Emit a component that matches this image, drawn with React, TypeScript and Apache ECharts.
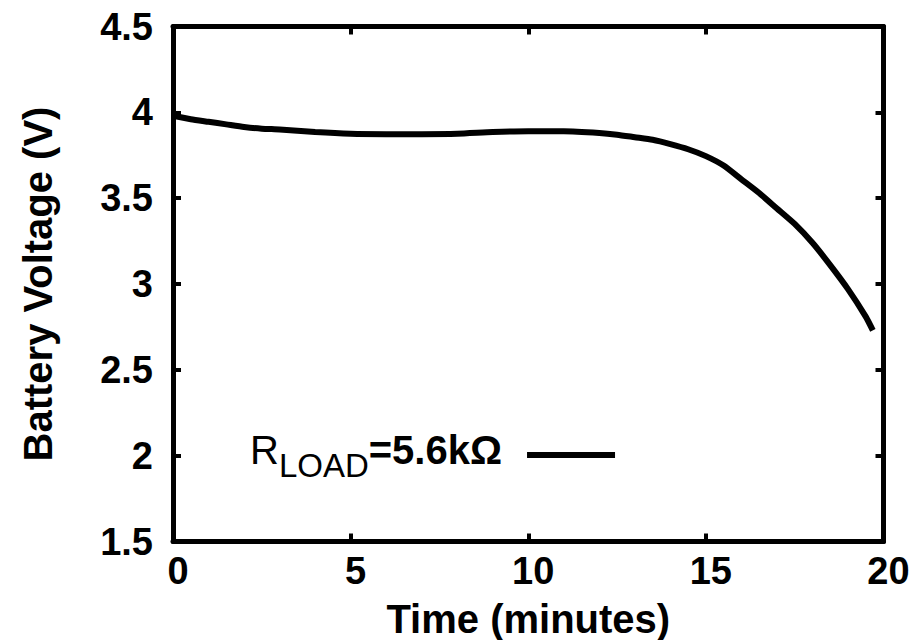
import React, { useEffect, useRef } from "react";
import * as echarts from "echarts";

const timeMinutes = [0, 0.5, 1, 1.5, 2, 2.5, 3, 4, 5, 6, 7, 8, 9, 10, 11, 12, 12.5, 13, 13.5, 14, 14.5, 15, 15.5, 16, 16.5, 17, 17.5, 18, 18.5, 19, 19.5, 19.7];
const voltage = [3.98, 3.96, 3.945, 3.93, 3.915, 3.905, 3.9, 3.885, 3.875, 3.873, 3.873, 3.875, 3.885, 3.89, 3.89, 3.88, 3.87, 3.855, 3.84, 3.815, 3.785, 3.745, 3.69, 3.61, 3.53, 3.44, 3.35, 3.24, 3.11, 2.97, 2.81, 2.73];
const xTicks = [0, 5, 10, 15, 20];
const yTicks = [1.5, 2, 2.5, 3, 3.5, 4, 4.5];
const seriesName = "RLOAD=5.6kΩ";

const FONT = "'Liberation Sans', Arial, Helvetica, sans-serif";

export default function App() {
  const ref = useRef<HTMLDivElement>(null);
  useEffect(() => {
    if (!ref.current) return;
    const chart = echarts.init(ref.current, null, { renderer: "svg" });
    const axisLine = { show: true, onZero: false, lineStyle: { color: "#000", width: 5 } };
    const axisTick = { show: true, inside: true, length: 8, lineStyle: { color: "#000", width: 4 } };
    const labelStyle = { color: "#000", fontSize: 38, fontWeight: "bold", fontFamily: FONT };
    const data = timeMinutes.map((t, i) => [t, voltage[i]]);
    chart.setOption({
      animation: false,
      backgroundColor: "#fff",
      grid: { left: 173, right: 40.5, top: 26.5, bottom: 98.5, containLabel: false, outerBoundsMode: "none" },
      legend: {
        show: true,
        left: 250,
        top: 429,
        padding: 0,
        align: "right",
        icon: "path://M0 0 M0 12 L88 12 L88 18 L0 18 Z",
        itemWidth: 88,
        itemHeight: 18,
        data: [seriesName],
        formatter: () => "{r|R}{s|LOAD}{v|=5.6kΩ}",
        textStyle: {
          color: "#000",
          fontFamily: FONT,
          rich: {
            r: { fontSize: 40, fontWeight: "normal", fontFamily: FONT, color: "#000", lineHeight: 40, padding: [1, 0, 0, 0], verticalAlign: "top" },
            s: { fontSize: 33, fontWeight: "normal", fontFamily: FONT, color: "#000", lineHeight: 32, padding: [20, 0, 0, 0], verticalAlign: "top" },
            v: { fontSize: 40, fontWeight: "bold", fontFamily: FONT, color: "#000", lineHeight: 40, padding: [1, 20, 0, 0], verticalAlign: "top" },
          },
        },
      },
      xAxis: [
        {
          type: "value",
          position: "bottom",
          min: xTicks[0],
          max: xTicks[xTicks.length - 1],
          interval: 5,
          axisLine,
          axisTick,
          splitLine: { show: false },
          axisLabel: { ...labelStyle, margin: 10, padding: [0, 0, 0, 10] },
          name: "Time (minutes)",
          nameLocation: "middle",
          nameGap: 57,
          nameTextStyle: { color: "#000", fontSize: 40, fontWeight: "bold", fontFamily: FONT },
        },
        {
          type: "value",
          position: "top",
          min: xTicks[0],
          max: xTicks[xTicks.length - 1],
          interval: 5,
          axisLine,
          axisTick,
          splitLine: { show: false },
          axisLabel: { show: false },
        },
      ],
      yAxis: [
        {
          type: "value",
          position: "left",
          min: yTicks[0],
          max: yTicks[yTicks.length - 1],
          interval: 0.5,
          axisLine,
          axisTick,
          splitLine: { show: false },
          axisLabel: { ...labelStyle, margin: 20 },
          name: "Battery Voltage (V)",
          nameLocation: "middle",
          nameGap: 115,
          nameTextStyle: { color: "#000", fontSize: 40, fontWeight: "bold", fontFamily: FONT },
        },
        {
          type: "value",
          position: "right",
          min: yTicks[0],
          max: yTicks[yTicks.length - 1],
          interval: 0.5,
          axisLine,
          axisTick,
          splitLine: { show: false },
          axisLabel: { show: false },
        },
      ],
      series: [
        {
          name: seriesName,
          type: "line",
          data,
          xAxisIndex: 0,
          yAxisIndex: 0,
          symbol: "none",
          smooth: 0.2,
          color: "#000",
          itemStyle: { color: "#000" },
          lineStyle: { color: "#000", width: 6 },
        },
      ],
    });
    return () => chart.dispose();
  }, []);
  return (
    <div
      ref={ref}
      style={{ position: "fixed", left: 0, top: 0, width: 924, height: 640, background: "#fff" }}
    />
  );
}
